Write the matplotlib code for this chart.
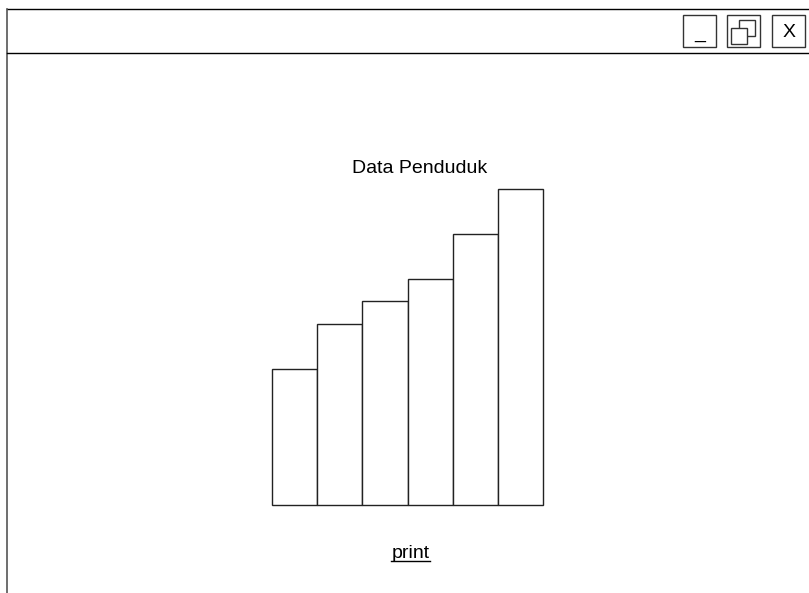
import matplotlib.pyplot as plt
from matplotlib.patches import Rectangle

# wireframe window with a simple bar chart
W, H = 809, 593

title = "Data Penduduk"
link_text = "print"
categories = ["1", "2", "3", "4", "5", "6"]
values = [3, 4, 4.5, 5, 6, 7]

plt.rcParams['font.family'] = ['Liberation Sans', 'DejaVu Sans']

fig = plt.figure(figsize=(W / 100, H / 100), dpi=100)

# background axes in pixel coordinates for the window chrome
bg = fig.add_axes([0, 0, 1, 1])
bg.set_xlim(0, W)
bg.set_ylim(H, 0)
bg.axis('off')

lc = '#000000'
bg.plot([7.5, W], [8.5, 8.5], color=lc, lw=1)
bg.plot([7.5, 7.5], [8.5, H], color='#555555', lw=1.2)
bg.plot([7.5, W], [52.5, 52.5], color=lc, lw=1)

# title bar buttons
for x0 in [683.5, 727.5, 772.5]:
    bg.add_patch(Rectangle((x0, 14.5), 33, 32, fill=False, ec='#333333', lw=1))
bg.text(700, 38, "_", ha='center', va='baseline', fontsize=14)
bg.add_patch(Rectangle((739.5, 19.5), 16, 16, fill=True, fc='white', ec='#333333', lw=1))
bg.add_patch(Rectangle((731.5, 27.5), 16, 16, fill=True, fc='white', ec='#333333', lw=1))
bg.text(789, 37, "X", ha='center', va='baseline', fontsize=14)

bg.text(419.5, 173, title, ha='center', va='baseline', fontsize=14)
bg.text(410.5, 558, link_text, ha='center', va='baseline', fontsize=14)
bg.plot([391, 430], [560.5, 560.5], color=lc, lw=1)

# bar chart area
left, right, top, bottom = 272, 543, 188.5, 504.5
ax = fig.add_axes([left / W, 1 - bottom / H, (right - left) / W, (bottom - top) / H])
ax.bar(range(len(values)), values, width=1, color='white', edgecolor='#222222',
       linewidth=1, clip_on=False)
ax.set_xlim(-0.5, len(values) - 0.5)
ax.set_ylim(0, max(values))
ax.axis('off')

fig.savefig("out.png", dpi=100, facecolor='white')
